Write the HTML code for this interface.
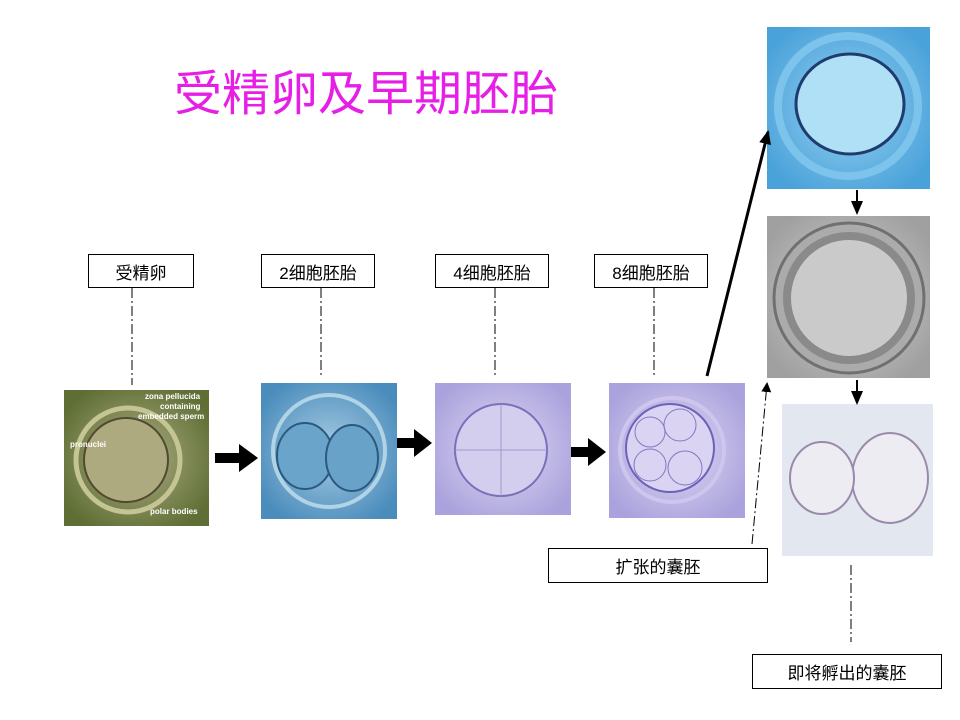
<!DOCTYPE html>
<html><head><meta charset="utf-8"><style>
body{margin:0;background:#fff;}
.lbl{position:absolute;border:1px solid #000;background:#fff;font-family:"Liberation Sans","Noto Sans CJK SC",sans-serif;font-size:17px;display:flex;align-items:center;justify-content:center;box-sizing:border-box;}
</style></head><body>
<div style="position:relative;width:960px;height:720px;overflow:hidden;">
<div style="position:absolute;left:174px;top:54px;font-family:'Liberation Sans','Noto Sans CJK SC',sans-serif;font-size:48px;color:#e61ee6;white-space:nowrap;">受精卵及早期胚胎</div>
<div class="lbl" style="left:88px;top:254px;width:106px;height:34px;">受精卵</div>
<div class="lbl" style="left:261px;top:254px;width:114px;height:34px;">2细胞胚胎</div>
<div class="lbl" style="left:435px;top:254px;width:114px;height:34px;">4细胞胚胎</div>
<div class="lbl" style="left:594px;top:254px;width:114px;height:34px;">8细胞胚胎</div>
<div class="lbl" style="left:548px;top:548px;width:220px;height:35px;">扩张的囊胚</div>
<div class="lbl" style="left:752px;top:654px;width:190px;height:35px;">即将孵出的囊胚</div>
<svg width="960" height="720" style="position:absolute;left:0;top:0;">
<defs>
<radialGradient id="g1" cx="50%" cy="50%" r="60%"><stop offset="0" stop-color="#b0ae84"/><stop offset="1" stop-color="#5e6e34"/></radialGradient>
<radialGradient id="g2" cx="50%" cy="50%" r="60%"><stop offset="0" stop-color="#a8cce2"/><stop offset="1" stop-color="#4a8cbc"/></radialGradient>
<radialGradient id="g3" cx="50%" cy="50%" r="60%"><stop offset="0" stop-color="#dedaf4"/><stop offset="1" stop-color="#aaa2dc"/></radialGradient>
<radialGradient id="g5" cx="50%" cy="50%" r="60%"><stop offset="0" stop-color="#96d0f0"/><stop offset="1" stop-color="#4aa2da"/></radialGradient>
<radialGradient id="g6" cx="50%" cy="50%" r="60%"><stop offset="0" stop-color="#d4d4d4"/><stop offset="1" stop-color="#a0a0a0"/></radialGradient>
<marker id="ah" markerUnits="userSpaceOnUse" markerWidth="10" markerHeight="10" refX="8" refY="5" orient="auto"><path d="M0,0L10,5L0,10z" fill="#000"/></marker>
<marker id="ah2" markerUnits="userSpaceOnUse" markerWidth="14" markerHeight="12" refX="12" refY="6" orient="auto"><path d="M0,0L14,6L0,12z" fill="#000"/></marker>
</defs>
<rect x="64" y="390" width="145" height="136" fill="url(#g1)"/>
<circle cx="128" cy="460" r="52" fill="none" stroke="#c4c494" stroke-width="5"/>
<circle cx="126" cy="460" r="42" fill="#aeaa80" stroke="#504a30" stroke-width="2"/>
<g font-family="Liberation Sans,sans-serif" font-size="8" font-weight="bold" fill="#fff">
<text x="145" y="399">zona pellucida</text><text x="160" y="409">containing</text><text x="138" y="419">embedded sperm</text>
<text x="70" y="447">pronuclei</text><text x="150" y="514">polar bodies</text></g>
<rect x="261" y="383" width="136" height="136" fill="url(#g2)"/>
<circle cx="329" cy="451" r="56" fill="none" stroke="#b0d4e6" stroke-width="4"/>
<ellipse cx="305" cy="456" rx="28" ry="33" fill="#6aa4ca" stroke="#2a5a80" stroke-width="2"/>
<ellipse cx="352" cy="458" rx="26" ry="33" fill="#68a2c8" stroke="#2a5a80" stroke-width="2"/>
<rect x="435" y="383" width="136" height="132" fill="url(#g3)"/>
<circle cx="501" cy="450" r="46" fill="#d4ceee" stroke="#7a70b8" stroke-width="2"/>
<path d="M501,404v92M455,450h92" stroke="#a098d0" fill="none"/>
<rect x="609" y="383" width="136" height="135" fill="url(#g3)"/>
<circle cx="672" cy="450" r="52" fill="none" stroke="#cec6ee" stroke-width="4"/>
<circle cx="670" cy="448" r="44" fill="#dad4f2" stroke="#6c62b8" stroke-width="2"/>
<circle cx="650" cy="432" r="15" fill="none" stroke="#8078c4"/><circle cx="680" cy="425" r="16" fill="none" stroke="#8078c4"/>
<circle cx="650" cy="465" r="16" fill="none" stroke="#8078c4"/><circle cx="685" cy="468" r="17" fill="none" stroke="#8078c4"/>
<rect x="767" y="27" width="163" height="162" fill="url(#g5)"/>
<circle cx="848" cy="106" r="70" fill="none" stroke="#7cc4ec" stroke-width="8"/>
<ellipse cx="850" cy="104" rx="54" ry="50" fill="#b0e0f6" stroke="#1e3c6e" stroke-width="3"/>
<rect x="767" y="216" width="163" height="162" fill="url(#g6)"/>
<circle cx="849" cy="298" r="75" fill="#ababab" stroke="#707070" stroke-width="3"/>
<circle cx="849" cy="298" r="62" fill="#cacaca" stroke="#8a8a8a" stroke-width="8"/>
<rect x="782" y="404" width="151" height="152" fill="#e3e7f0"/>
<ellipse cx="890" cy="478" rx="38" ry="45" fill="#ececf2" stroke="#9a8aaa" stroke-width="2"/>
<ellipse cx="822" cy="478" rx="32" ry="36" fill="#ececf2" stroke="#9a8aaa" stroke-width="2"/>
<g fill="#000">
<path d="M215,453h24v-9l19,14l-19,14v-9h-24z"/>
<path d="M397,438h17v-9l18,14l-18,14v-9h-17z"/>
<path d="M571,447h17v-9l18,14l-18,14v-9h-17z"/>
</g>
<g stroke="#000" stroke-width="1" stroke-dasharray="10,3,2,3" fill="none">
<line x1="132" y1="288" x2="132" y2="385"/>
<line x1="321" y1="288" x2="321" y2="378"/>
<line x1="495" y1="288" x2="495" y2="378"/>
<line x1="654" y1="288" x2="654" y2="378"/>
<line x1="851" y1="565" x2="851" y2="642"/>
<line x1="752" y1="544" x2="767" y2="384" marker-end="url(#ah)"/>
</g>
<line x1="707" y1="376" x2="768" y2="132" stroke="#000" stroke-width="3" marker-end="url(#ah2)"/>
<line x1="857" y1="190" x2="857" y2="213" stroke="#000" stroke-width="2" marker-end="url(#ah2)"/>
<line x1="857" y1="380" x2="857" y2="403" stroke="#000" stroke-width="2" marker-end="url(#ah2)"/>
</svg>
</div>
</body></html>
